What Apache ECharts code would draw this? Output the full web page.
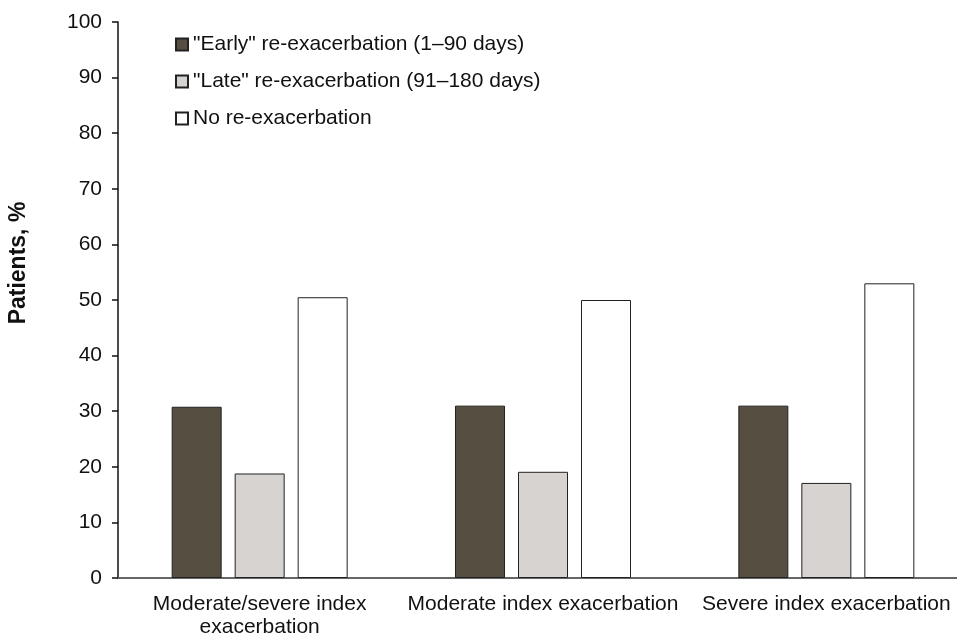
<!DOCTYPE html>
<html><head><meta charset="utf-8">
<script src="https://cdn.jsdelivr.net/npm/echarts@6/dist/echarts.min.js"></script>
<style>html,body{margin:0;padding:0;background:#fff}#c{width:957px;height:637px}</style>
</head><body><div id="c"></div>
<script>
const categories = ['Moderate/severe index\nexacerbation', 'Moderate index exacerbation', 'Severe index exacerbation'];
const seriesNames = ['"Early" re-exacerbation (1\u201390 days)', '"Late" re-exacerbation (91\u2013180 days)', 'No re-exacerbation'];
const earlyValues = [30.8, 31.0, 31.0];
const lateValues = [18.8, 19.1, 17.1];
const noneValues = [50.5, 50.0, 53.0];
const yTicks = { min: 0, max: 100, interval: 10 };

const colors = ['#564e41', '#d6d3d0', '#ffffff'];
const font = 'Liberation Sans, Arial, sans-serif';
const chart = echarts.init(document.getElementById('c'));
const mk = (name, data, color) => ({
  name, type: 'bar', data, barWidth: 50, barGap: '26%',
  itemStyle: { color, borderColor: '#222', borderWidth: 1 }
});
chart.setOption({
  animation: false,
  textStyle: { fontFamily: font },
  grid: { left: 118, right: -11, top: 22, bottom: 59, containLabel: false, outerBoundsMode: 'none' },
  legend: {
    orient: 'vertical', left: 170, top: 29, itemWidth: 12, itemHeight: 12, itemGap: 16,
    icon: 'rect',
    textStyle: { fontFamily: font, fontSize: 21, color: '#111' },
    data: seriesNames
  },
  xAxis: {
    type: 'category', data: categories,
    axisLine: { lineStyle: { color: '#666', width: 2 } },
    axisTick: { show: false },
    axisLabel: { interval: 0, fontFamily: font, fontSize: 21, color: '#111', margin: 15, lineHeight: 23 }
  },
  yAxis: {
    type: 'value', min: yTicks.min, max: yTicks.max, interval: yTicks.interval,
    name: 'Patients, %', nameLocation: 'middle', nameGap: 88, nameRotate: 90,
    nameTextStyle: { fontFamily: font, fontSize: 23, fontWeight: 'bold', color: '#111', padding: [0, 0, 0, 74] },
    axisLine: { show: true, lineStyle: { color: '#111', width: 1.5 } },
    axisTick: { show: true, inside: false, length: 6, lineStyle: { color: '#111', width: 1.5 } },
    splitLine: { show: false },
    axisLabel: { fontFamily: font, fontSize: 21, color: '#111', margin: 16 }
  },
  series: [
    mk(seriesNames[0], earlyValues, colors[0]),
    mk(seriesNames[1], lateValues, colors[1]),
    mk(seriesNames[2], noneValues, colors[2])
  ]
});
</script></body></html>
